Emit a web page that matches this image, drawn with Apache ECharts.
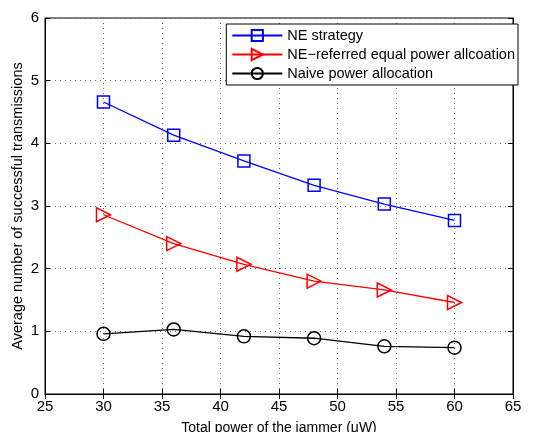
<!DOCTYPE html>
<html>
<head>
<meta charset="utf-8">
<script src="https://cdn.jsdelivr.net/npm/echarts@6/dist/echarts.min.js"></script>
<style>
html,body{margin:0;padding:0;background:#fff;}
#chart{width:534px;height:432px;}
</style>
</head>
<body>
<div id="chart"></div>
<script>
// jammer power (uW)
let power = [30, 36, 42, 48, 54, 60];
let neStrategy = [4.66, 4.13, 3.72, 3.33, 3.03, 2.77];
let neEqual = [2.86, 2.40, 2.07, 1.80, 1.66, 1.46];
let naive = [0.96, 1.03, 0.92, 0.89, 0.76, 0.74];

function pairs(ys) {
    let out = [];
    for (let i = 0; i < power.length; i++) {
        out.push([power[i], ys[i]]);
    }
    return out;
}

const font = 'Liberation Sans, Arial, sans-serif';
let chart = echarts.init(document.getElementById('chart'));

let gridLine = {show: true, lineStyle: {type: [1, 4], color: '#666', width: 1}};

chart.setOption({
    animation: false,
    backgroundColor: '#fff',
    grid: {
        left: 45, right: 21, top: 18, bottom: 38,
        outerBoundsMode: 'none', containLabel: false,
        show: true, borderColor: '#000', borderWidth: 1
    },
    legend: {
        orient: 'vertical',
        right: 16,
        top: 24,
        backgroundColor: '#fff',
        borderColor: '#000',
        borderWidth: 1,
        borderRadius: 0,
        padding: [4, 3, 4, 5],
        itemGap: 4,
        itemWidth: 50,
        itemHeight: 14,
        textStyle: {fontFamily: font, fontSize: 14.5, color: '#000'},
        data: ['NE strategy', 'NE\u2212referred equal power allcoation', 'Naive power allocation']
    },
    xAxis: [{
        type: 'value', min: 25, max: 65, interval: 5,
        name: 'Total power of the jammer (\u03bcW)',
        nameLocation: 'middle', nameGap: 27, nameMoveOverlap: false,
        nameTextStyle: {fontFamily: font, fontSize: 14, color: '#000'},
        axisLine: {lineStyle: {color: '#000'}},
        axisTick: {inside: true, length: 5, lineStyle: {color: '#000'}},
        axisLabel: {fontFamily: font, fontSize: 15, color: '#000', margin: 5},
        splitLine: gridLine
    }, {
        type: 'value', min: 25, max: 65, interval: 5, position: 'top',
        axisLine: {lineStyle: {color: '#000'}},
        axisTick: {inside: true, length: 5, lineStyle: {color: '#000'}},
        axisLabel: {show: false}, splitLine: {show: false}
    }],
    yAxis: [{
        type: 'value', min: 0, max: 6, interval: 1,
        name: 'Average number of successful transmissions',
        nameLocation: 'middle', nameGap: 20, nameMoveOverlap: false,
        nameTextStyle: {fontFamily: font, fontSize: 14.5, color: '#000'},
        axisLine: {show: true, lineStyle: {color: '#000'}},
        axisTick: {show: true, inside: true, length: 5, lineStyle: {color: '#000'}},
        axisLabel: {fontFamily: font, fontSize: 15, color: '#000', margin: 6},
        splitLine: gridLine
    }, {
        type: 'value', min: 0, max: 6, interval: 1, position: 'right',
        axisLine: {show: true, lineStyle: {color: '#000'}},
        axisTick: {show: true, inside: true, length: 5, lineStyle: {color: '#000'}},
        axisLabel: {show: false}, splitLine: {show: false}
    }],
    series: [
        {
            name: 'NE strategy', type: 'line', data: pairs(neStrategy),
            symbol: 'rect', symbolSize: 12,
            lineStyle: {color: '#0000ff', width: 1.3},
            itemStyle: {color: 'rgba(255,255,255,0)', borderColor: '#0000ff', borderWidth: 1.5}
        },
        {
            name: 'NE\u2212referred equal power allcoation', type: 'line', data: pairs(neEqual),
            symbol: 'triangle', symbolRotate: -90, symbolSize: 14,
            lineStyle: {color: '#ff0000', width: 1.3},
            itemStyle: {color: 'rgba(255,255,255,0)', borderColor: '#ff0000', borderWidth: 1.5}
        },
        {
            name: 'Naive power allocation', type: 'line', data: pairs(naive),
            symbol: 'circle', symbolSize: 13,
            lineStyle: {color: '#000', width: 1.3},
            itemStyle: {color: 'rgba(255,255,255,0)', borderColor: '#000', borderWidth: 1.5}
        }
    ]
});
</script>
</body>
</html>
